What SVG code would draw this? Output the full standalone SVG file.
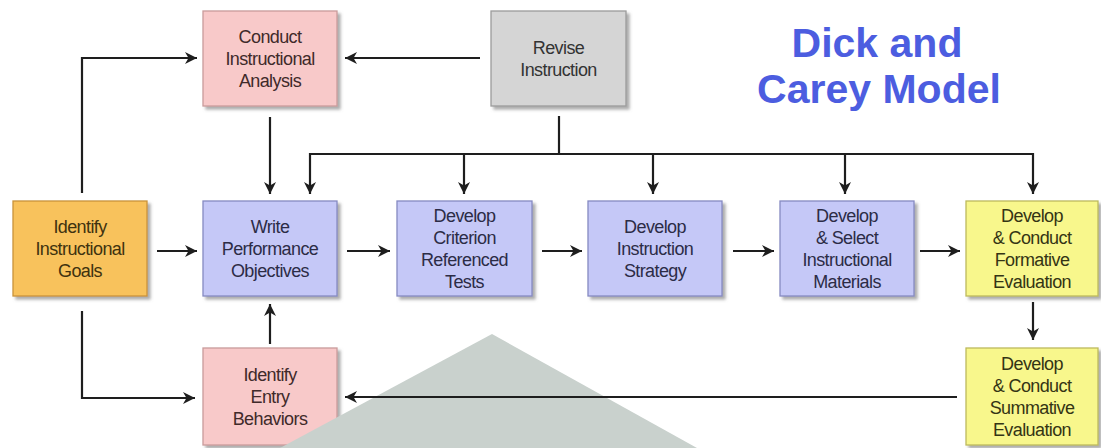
<svg xmlns="http://www.w3.org/2000/svg" width="1101" height="448" viewBox="0 0 1101 448">
  <defs>
    <filter id="shadow" x="-10%" y="-10%" width="125%" height="125%">
      <feDropShadow dx="3" dy="3" stdDeviation="1.5" flood-color="#6a6a6a" flood-opacity="0.55"/>
    </filter>
    <marker id="arrow" markerUnits="userSpaceOnUse" markerWidth="13" markerHeight="12" refX="12" refY="6" orient="auto">
      <path d="M0,0 L12,6 L0,12 L3.5,6 z" fill="#1e1e1e"/>
    </marker>
    <style>
      .box { stroke-width: 1.3; filter: url(#shadow); }
      .pink { fill: #f8c9c9; stroke: #c99b9b; }
      .blue { fill: #c5c8f7; stroke: #868ac2; }
      .orange { fill: #f8c25c; stroke: #c9933a; }
      .yellow { fill: #f8f78c; stroke: #bdbb5c; }
      .gray { fill: #d5d5d5; stroke: #9c9c9c; }
      .lbl { font-family: "Liberation Sans", Arial, sans-serif; font-size: 18px; text-anchor: middle; letter-spacing: -0.6px; }
      .tp { fill: #402a2a; }
      .tb { fill: #2c2c46; }
      .to { fill: #40320f; }
      .ty { fill: #343414; }
      .tg { fill: #333333; }
      .title { font-family: "Liberation Sans", Arial, sans-serif; font-size: 41px; font-weight: bold; fill: #4c5de0; text-anchor: middle; }
      .conn { fill: none; stroke: #1e1e1e; stroke-width: 2.2; }
    </style>
  </defs>

  <rect width="1101" height="448" fill="#ffffff"/>

  <text class="title" x="877" y="57">Dick and</text>
  <text class="title" x="879" y="103">Carey Model</text>

  <g id="conduct-analysis">
    <rect class="box pink" x="203" y="11" width="134" height="95"/>
    <text class="lbl tp" x="270" y="43">Conduct</text>
    <text class="lbl tp" x="270" y="65">Instructional</text>
    <text class="lbl tp" x="270" y="87">Analysis</text>
  </g>

  <g id="revise-instruction">
    <rect class="box gray" x="491" y="11" width="135" height="95"/>
    <text class="lbl tg" x="558.5" y="54">Revise</text>
    <text class="lbl tg" x="558.5" y="76">Instruction</text>
  </g>

  <g id="identify-goals">
    <rect class="box orange" x="13" y="201" width="134" height="95"/>
    <text class="lbl to" x="80" y="233">Identify</text>
    <text class="lbl to" x="80" y="255">Instructional</text>
    <text class="lbl to" x="80" y="277">Goals</text>
  </g>

  <g id="write-objectives">
    <rect class="box blue" x="203" y="201" width="134" height="95"/>
    <text class="lbl tb" x="270" y="233">Write</text>
    <text class="lbl tb" x="270" y="255">Performance</text>
    <text class="lbl tb" x="270" y="277">Objectives</text>
  </g>

  <g id="criterion-tests">
    <rect class="box blue" x="397" y="201" width="135" height="95"/>
    <text class="lbl tb" x="464.5" y="222">Develop</text>
    <text class="lbl tb" x="464.5" y="244">Criterion</text>
    <text class="lbl tb" x="464.5" y="266">Referenced</text>
    <text class="lbl tb" x="464.5" y="288">Tests</text>
  </g>

  <g id="instruction-strategy">
    <rect class="box blue" x="588" y="201" width="134" height="95"/>
    <text class="lbl tb" x="655" y="233">Develop</text>
    <text class="lbl tb" x="655" y="255">Instruction</text>
    <text class="lbl tb" x="655" y="277">Strategy</text>
  </g>

  <g id="select-materials">
    <rect class="box blue" x="780" y="201" width="134" height="95"/>
    <text class="lbl tb" x="847" y="222">Develop</text>
    <text class="lbl tb" x="847" y="244">&amp; Select</text>
    <text class="lbl tb" x="847" y="266">Instructional</text>
    <text class="lbl tb" x="847" y="288">Materials</text>
  </g>

  <g id="formative-evaluation">
    <rect class="box yellow" x="966" y="201" width="132" height="95"/>
    <text class="lbl ty" x="1032" y="222">Develop</text>
    <text class="lbl ty" x="1032" y="244">&amp; Conduct</text>
    <text class="lbl ty" x="1032" y="266">Formative</text>
    <text class="lbl ty" x="1032" y="288">Evaluation</text>
  </g>

  <g id="entry-behaviors">
    <rect class="box pink" x="203" y="348" width="134" height="97"/>
    <text class="lbl tp" x="270" y="381">Identify</text>
    <text class="lbl tp" x="270" y="403">Entry</text>
    <text class="lbl tp" x="270" y="425">Behaviors</text>
  </g>

  <g id="summative-evaluation">
    <rect class="box yellow" x="966" y="348" width="132" height="97"/>
    <text class="lbl ty" x="1032" y="370">Develop</text>
    <text class="lbl ty" x="1032" y="392">&amp; Conduct</text>
    <text class="lbl ty" x="1032" y="414">Summative</text>
    <text class="lbl ty" x="1032" y="436">Evaluation</text>
  </g>

  <!-- grey triangle shape in the lower middle -->
  <polygon points="492,334 280,448 697,448" fill="#c9d1cd"/>

  <g id="connectors">
    <path class="conn" d="M82,193 V58 H197" marker-end="url(#arrow)"/>
    <path class="conn" d="M480,58 H345" marker-end="url(#arrow)"/>
    <path class="conn" d="M270,117 V194" marker-end="url(#arrow)"/>
    <path class="conn" d="M559,116 V154"/>
    <path class="conn" d="M310,154 H1033"/>
    <path class="conn" d="M310,153 V194" marker-end="url(#arrow)"/>
    <path class="conn" d="M464,154 V194" marker-end="url(#arrow)"/>
    <path class="conn" d="M653,154 V194" marker-end="url(#arrow)"/>
    <path class="conn" d="M845,154 V194" marker-end="url(#arrow)"/>
    <path class="conn" d="M1033,153 V194" marker-end="url(#arrow)"/>
    <path class="conn" d="M157,251 H197" marker-end="url(#arrow)"/>
    <path class="conn" d="M347,251 H390" marker-end="url(#arrow)"/>
    <path class="conn" d="M542,251 H582" marker-end="url(#arrow)"/>
    <path class="conn" d="M733,251 H774" marker-end="url(#arrow)"/>
    <path class="conn" d="M920,251 H960" marker-end="url(#arrow)"/>
    <path class="conn" d="M1033,302 V340" marker-end="url(#arrow)"/>
    <path class="conn" d="M270,344 V304" marker-end="url(#arrow)"/>
    <path class="conn" d="M82,311 V398 H195" marker-end="url(#arrow)"/>
    <path class="conn" d="M957,397 H345" marker-end="url(#arrow)"/>
  </g>
</svg>
